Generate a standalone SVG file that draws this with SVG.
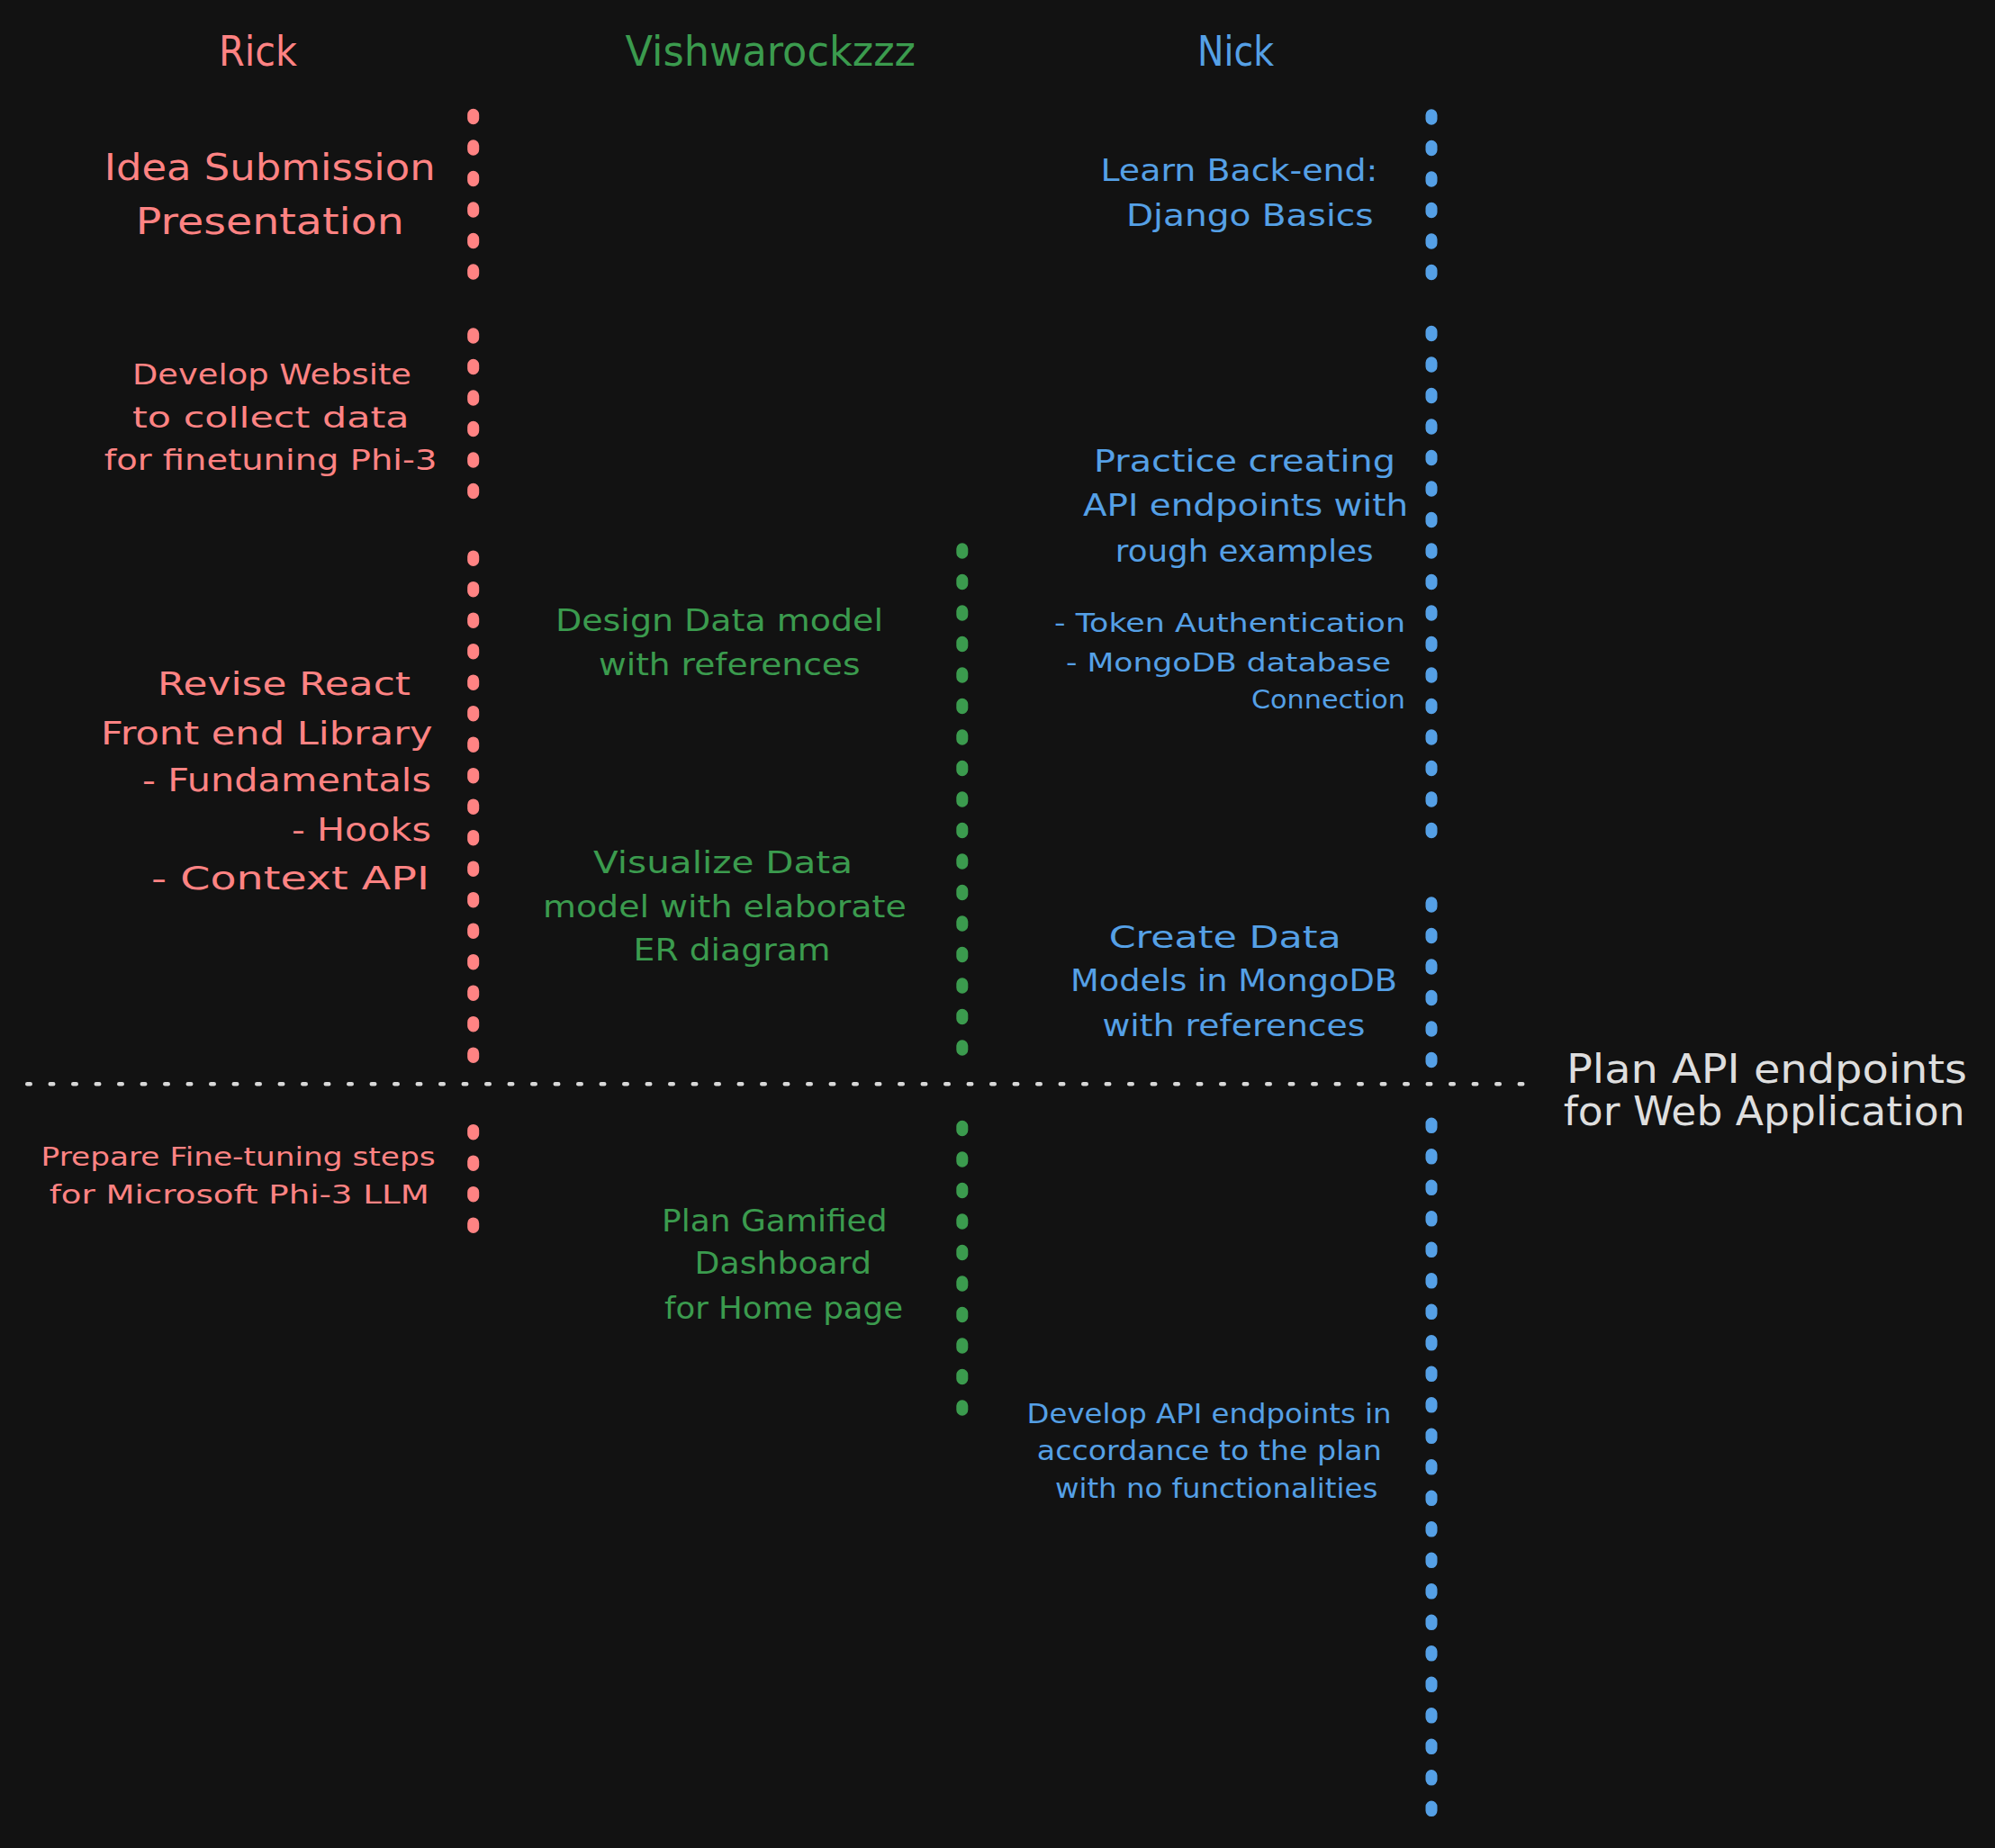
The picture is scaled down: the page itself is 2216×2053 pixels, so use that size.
<svg xmlns="http://www.w3.org/2000/svg" width="2216" height="2053" viewBox="0 0 2216 2053">
<style>
.t{font-family:"DejaVu Sans","Liberation Sans",sans-serif}
.r{fill:#ff8383}.g{fill:#3b9b4e}.b{fill:#55a0e6}.w{fill:#dedede}
.dl{fill:none;stroke-width:13;stroke-linecap:round;stroke-dasharray:4.5 30}
.rs{stroke:#ff8383}.gs{stroke:#3b9b4e}.bs{stroke:#55a0e6}
.hl{fill:none;stroke:#d8d8d8;stroke-width:4.5;stroke-linecap:round;stroke-dasharray:3.5 22}
</style>
<rect x="0" y="0" width="2216" height="2053" fill="#121212"/>
<g id="connectors">
<path class="dl rs" d="M525.7 127.25V304.25"/>
<path class="dl rs" d="M525.7 370.75V547.75"/>
<path class="dl rs" d="M525.7 617.95V1174.45"/>
<path class="dl rs" d="M525.7 1255.45V1363.45"/>
<path class="dl gs" d="M1068.8 609.75V1166.25"/>
<path class="dl gs" d="M1068.8 1251.25V1566.25"/>
<path class="dl bs" d="M1590 127.75V304.75"/>
<path class="dl bs" d="M1590 368.25V924.75"/>
<path class="dl bs" d="M1590 1002.75V1179.75"/>
<path class="dl bs" d="M1590 1248.05V2011.55"/>
<path class="hl" d="M30.25 1204.3H1691.25"/>
</g>
<g id="header-rick" class="t r" font-size="47">
<text x="243" y="72.5" textLength="87" lengthAdjust="spacingAndGlyphs">Rick</text>
</g>
<g id="header-vishwa" class="t g" font-size="47">
<text x="694.5" y="72.5" textLength="322.5" lengthAdjust="spacingAndGlyphs">Vishwarockzzz</text>
</g>
<g id="header-nick" class="t b" font-size="47">
<text x="1330" y="72.5" textLength="85" lengthAdjust="spacingAndGlyphs">Nick</text>
</g>
<g id="idea-submission" class="t r" font-size="40">
<text x="115.7" y="199.8" textLength="368" lengthAdjust="spacingAndGlyphs">Idea Submission</text>
<text x="150.8" y="260.2" textLength="298" lengthAdjust="spacingAndGlyphs">Presentation</text>
</g>
<g id="develop-website" class="t r" font-size="32">
<text x="147" y="426.7" textLength="310" lengthAdjust="spacingAndGlyphs">Develop Website</text>
<text x="147" y="474.5" textLength="307.6" lengthAdjust="spacingAndGlyphs">to collect data</text>
<text x="115.7" y="522.4" textLength="369.7" lengthAdjust="spacingAndGlyphs">for finetuning Phi-3</text>
</g>
<g id="revise-react" class="t r" font-size="36">
<text x="175" y="771.5" textLength="281" lengthAdjust="spacingAndGlyphs">Revise React</text>
<text x="112" y="826.6" textLength="368.5" lengthAdjust="spacingAndGlyphs">Front end Library</text>
<text x="158" y="879" textLength="321" lengthAdjust="spacingAndGlyphs">- Fundamentals</text>
<text x="324" y="934.4" textLength="155" lengthAdjust="spacingAndGlyphs">- Hooks</text>
<text x="168" y="988.3" textLength="309" lengthAdjust="spacingAndGlyphs">- Context API</text>
</g>
<g id="design-data-model" class="t g" font-size="33">
<text x="617" y="701" textLength="364" lengthAdjust="spacingAndGlyphs">Design Data model</text>
<text x="665" y="750" textLength="290.5" lengthAdjust="spacingAndGlyphs">with references</text>
</g>
<g id="visualize-data" class="t g" font-size="33">
<text x="659" y="969.6" textLength="288" lengthAdjust="spacingAndGlyphs">Visualize Data</text>
<text x="603" y="1018.5" textLength="403.7" lengthAdjust="spacingAndGlyphs">model with elaborate</text>
<text x="703.6" y="1067" textLength="219" lengthAdjust="spacingAndGlyphs">ER diagram</text>
</g>
<g id="learn-backend" class="t b" font-size="33">
<text x="1222.4" y="201" textLength="308" lengthAdjust="spacingAndGlyphs">Learn Back-end:</text>
<text x="1251" y="250.7" textLength="274.6" lengthAdjust="spacingAndGlyphs">Django Basics</text>
</g>
<g id="practice-api" class="t b" font-size="33">
<text x="1215" y="524.3" textLength="335" lengthAdjust="spacingAndGlyphs">Practice creating</text>
<text x="1203" y="573.3" textLength="361" lengthAdjust="spacingAndGlyphs">API endpoints with</text>
<text x="1238.8" y="623.5" textLength="286.8" lengthAdjust="spacingAndGlyphs">rough examples</text>
</g>
<g id="token-auth" class="t b" font-size="29">
<text x="1171" y="702.3" textLength="390" lengthAdjust="spacingAndGlyphs">- Token Authentication</text>
<text x="1184" y="745.8" textLength="361" lengthAdjust="spacingAndGlyphs">- MongoDB database</text>
<text x="1390" y="787.3" textLength="171" lengthAdjust="spacingAndGlyphs">Connection</text>
</g>
<g id="create-data-models" class="t b" font-size="33">
<text x="1231.7" y="1052.5" textLength="258" lengthAdjust="spacingAndGlyphs">Create Data</text>
<text x="1189" y="1101.4" textLength="363" lengthAdjust="spacingAndGlyphs">Models in MongoDB</text>
<text x="1224.5" y="1151" textLength="292" lengthAdjust="spacingAndGlyphs">with references</text>
</g>
<g id="plan-api-endpoints" class="t w" font-size="44">
<text x="1740" y="1203.3" textLength="445" lengthAdjust="spacingAndGlyphs">Plan API endpoints</text>
<text x="1736.7" y="1250" textLength="446" lengthAdjust="spacingAndGlyphs">for Web Application</text>
</g>
<g id="prepare-finetuning" class="t r" font-size="28">
<text x="45.6" y="1294.8" textLength="438" lengthAdjust="spacingAndGlyphs">Prepare Fine-tuning steps</text>
<text x="54.7" y="1337" textLength="422" lengthAdjust="spacingAndGlyphs">for Microsoft Phi-3 LLM</text>
</g>
<g id="plan-gamified" class="t g" font-size="33">
<text x="735" y="1368" textLength="250.6" lengthAdjust="spacingAndGlyphs">Plan Gamified</text>
<text x="771.6" y="1415" textLength="196.4" lengthAdjust="spacingAndGlyphs">Dashboard</text>
<text x="738" y="1465" textLength="265" lengthAdjust="spacingAndGlyphs">for Home page</text>
</g>
<g id="develop-api" class="t b" font-size="30">
<text x="1140.6" y="1580.8" textLength="405" lengthAdjust="spacingAndGlyphs">Develop API endpoints in</text>
<text x="1151.8" y="1622.3" textLength="383" lengthAdjust="spacingAndGlyphs">accordance to the plan</text>
<text x="1171.9" y="1663.5" textLength="358.4" lengthAdjust="spacingAndGlyphs">with no functionalities</text>
</g>
</svg>
